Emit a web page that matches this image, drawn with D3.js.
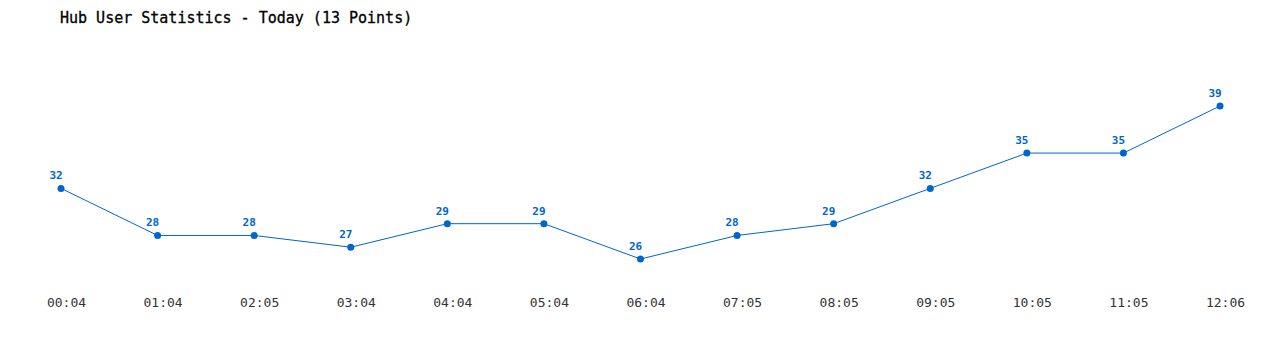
<!DOCTYPE html>
<html>
<head>
<meta charset="utf-8">
<script src="https://cdn.jsdelivr.net/npm/d3@7"></script>
<style>
  body { margin: 0; background: #fff; }
  text { font-family: "DejaVu Sans Mono", "Liberation Mono", monospace; }
</style>
</head>
<body>
<div id="chart"></div>
<script>
// Time labels along the bottom.
const times = ["00:04","01:04","02:05","03:04","04:04","05:04","06:04","07:05","08:05","09:05","10:05","11:05","12:06"];
// Users per sample.
const users = [32, 28, 28, 27, 29, 29, 26, 28, 29, 32, 35, 35, 39];

const title = "Hub User Statistics - Today (13 Points)";
const colour = "#0066cc";

const width = 1280, height = 350;

let svg = d3.select("#chart")
  .append("svg")
	.attr("width", width)
	.attr("height", height);

// Point index scale.
let x = d3.scalePoint()
  .domain(times)
  .range([61, 1220]);

let y = d3.scaleLinear()
  .domain([26, 39])
  .range([259, 106]);

svg.append("text")
  .attr("x", 60)
  .attr("y", 23)
  .attr("font-size", 15)
  .attr("fill", "#000")
  .attr("stroke", "#000")
  .attr("stroke-width", 0.3)
  .text(title);

// x axis labels, no line or ticks.
let xaxis = d3.axisBottom(x).tickSize(0).tickPadding(0);
let gx = svg.append("g")
  .attr("transform", "translate(5,298)")
  .call(xaxis);
gx.select(".domain").remove();
gx.selectAll("text")
  .attr("font-size", 13)
  .attr("fill", "#333")
  .attr("font-family", "'DejaVu Sans Mono', monospace");

let line = d3.line()
  .x((d,i)=>x(times[i]))
  .y(d=>y(d));

svg.append("path")
  .datum(users)
  .attr("fill", "none")
  .attr("stroke", colour)
  .attr("stroke-width", 1)
  .attr("d", line);

svg.append("g")
  .selectAll("circle")
  .data(users)
  .join("circle")
	.attr("cx", (d,i)=>x(times[i]))
	.attr("cy", d=>y(d))
	.attr("r", 3.5)
	.attr("fill", colour);

svg.append("g")
  .selectAll("text")
  .data(users)
  .join("text")
	.attr("x", (d,i)=>x(times[i]) - 5)
	.attr("y", d=>y(d) - 9)
	.attr("text-anchor", "middle")
	.attr("font-size", 11)
	.attr("font-weight", "bold")
	.attr("fill", colour)
	.text(d=>d);
</script>
</body>
</html>
